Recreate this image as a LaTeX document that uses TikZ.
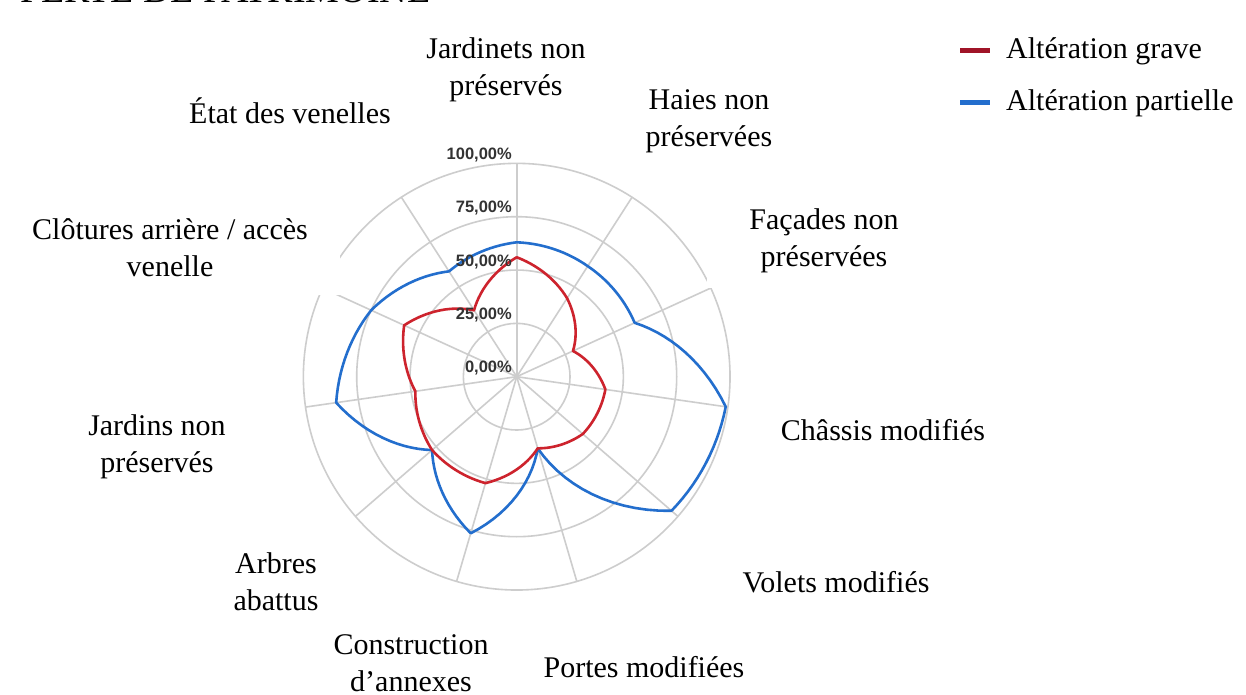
\documentclass[tikz,border=0pt]{standalone}
\usepackage{fontspec}
\setmainfont{Liberation Serif}
\setsansfont{Liberation Sans}
\usetikzlibrary{calc}

\definecolor{gravered}{RGB}{205,35,45}
\definecolor{gravebar}{RGB}{160,20,40}
\definecolor{partblue}{RGB}{35,110,205}
\definecolor{gridgray}{RGB}{205,205,205}

\tikzset{
  gridline/.style={draw=gridgray, line width=1.6pt},
  seriesline/.style={line width=2.6pt, line join=round, line cap=round},
  catlabel/.style={font=\fontsize{30}{37}\selectfont, align=center, inner sep=0pt},
  pctlabel/.style={font=\sffamily\bfseries\fontsize{16.5}{19}\selectfont, text=black!80, anchor=east, inner sep=0pt},
  legbar/.style={line width=5pt},
}

% values in percent, last one repeats the first
\def\gravedata{{56,43.7,29,42,41,35,52,52.5,48,58,37,56}}
\def\partdata{{63,61.6,60.8,99,96,35,76.5,52.5,85.5,75,58.7,63}}
\def\unitr{2.1333}

\begin{document}
\begin{tikzpicture}[x=1pt,y=1pt]
    %%Background
    \useasboundingbox[fill=white] (-516.7,-318.3) rectangle (729.3,376.7);

    %%Title
    \node[anchor=base west, font=\fontsize{38}{40}\selectfont, inner sep=0pt] (title)
      at (-496.7,374.2) {PERTE DE PATRIMOINE};

    %%Grid
    \foreach \r in {53.33,106.67,160,213.33}
      \draw[gridline] (0,0) circle (\r);
    \foreach \k in {0,...,10}
      \draw[gridline] (0,0) -- ({90-\k*360/11}:213.33);

    %% hidden parts of the outer ring
    \fill[white] (-520,82) rectangle (-176.7,300);
    \fill[white] (190.3,88.7) rectangle (260,300);

    %%Series
    \draw[seriesline, partblue] (90:{63*\unitr})
      \foreach \i [evaluate=\i as \ra using {\partdata[\i]},
                   evaluate=\i as \rb using {\partdata[\i+1]}] in {0,...,10}
      { -- plot[domain=0:1, samples=15, variable=\t]
          ({90-(\i+\t)*360/11}:{(\ra+(\rb-\ra)*\t)*\unitr}) } -- cycle;
    \draw[seriesline, gravered] (90:{56*\unitr})
      \foreach \i [evaluate=\i as \ra using {\gravedata[\i]},
                   evaluate=\i as \rb using {\gravedata[\i+1]}] in {0,...,10}
      { -- plot[domain=0:1, samples=15, variable=\t]
          ({90-(\i+\t)*360/11}:{(\ra+(\rb-\ra)*\t)*\unitr}) } -- cycle;

    %%Percent labels
    \foreach \p [count=\n from 0] in {0,25,50,75,100}
      \node[pctlabel] (pct\p) at (-4.7,{\n*53.33+8.5}) {\p,00\%};

    %%Categories
    \node[catlabel] (jardinets) at (-10.7,306.7) {Jardinets non\\préservés};
    \node[catlabel] (haies) at (192.3,255.2) {Haies non\\préservées};
    \node[catlabel] (facades) at (307.3,135.7) {Façades non\\préservées};
    \node[catlabel] (chassis) at (366.3,-53.3) {Châssis modifiés};
    \node[catlabel] (volets) at (319.3,-205.3) {Volets modifiés};
    \node[catlabel] (portes) at (127.3,-290.3) {Portes modifiées};
    \node[catlabel] (annexes) at (-105.7,-286.3) {Construction\\d’annexes};
    \node[catlabel] (arbres) at (-240.7,-205.3) {Arbres\\abattus};
    \node[catlabel] (jardins) at (-359.7,-70.3) {Jardins non\\préservés};
    \node[catlabel] (clotures) at (-346.7,128.7) {Clôtures arrière / accès\\venelle};
    \node[catlabel] (venelles) at (-226.7,265.7) {État des venelles};

    %%Legend
    \node[catlabel, anchor=west] (leggrave) at (489.3,325.7) {Altération grave};
    \node[catlabel, anchor=west] (legpart) at (489.3,273.7) {Altération partielle};
    \draw[legbar, gravebar] ([xshift=-46pt]leggrave.west) -- ++(30,0);
    \draw[legbar, partblue] ([xshift=-46pt]legpart.west) -- ++(30,0);

\end{tikzpicture}
\end{document}
